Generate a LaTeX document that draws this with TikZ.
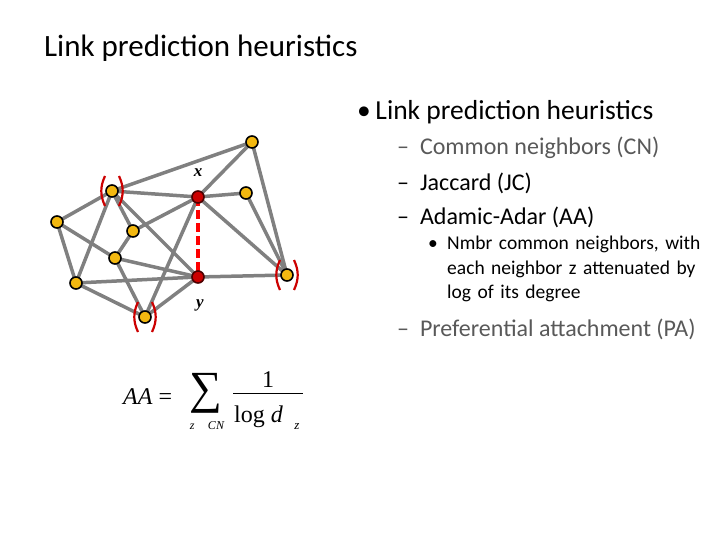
\documentclass[tikz,border=0pt]{standalone}
\usepackage{fontspec}
\setmainfont{Carlito}
\newfontfamily\tms{Liberation Serif}
\definecolor{ylw}{HTML}{F3B810}
\begin{document}
\begin{tikzpicture}[x=1pt,y=-1pt,
  nd/.style={circle,draw=black,line width=1.6pt,fill=ylw,minimum size=12pt,inner sep=0pt},
  rd/.style={circle,draw=black!70!red,line width=1.6pt,fill=red!80!black,minimum size=12pt,inner sep=0pt},
  ed/.style={draw=gray,line width=3.5pt},
  br/.style={draw=red!80!black,line width=2.2pt},
  txt/.style={anchor=west,inner sep=0pt,text=black!65},
  ft/.style={inner sep=0pt,font=\tms\fontsize{24}{28}\selectfont}]
\path[use as bounding box] (0,0) rectangle (720,540);
\node[anchor=west,inner sep=0pt,font=\fontsize{31}{36}\selectfont] (title) at (44,48) {Link prediction heuristics};
\node[anchor=west,inner sep=0pt,font=\fontsize{27.5}{32}\selectfont] (b1) at (357,112) {\textbullet\,Link prediction heuristics};
\node[txt,font=\fontsize{24}{28}\selectfont] (s1) at (397,148) {\textendash\ \ Common neighbors (CN)};
\node[txt,font=\fontsize{24}{28}\selectfont,text=black] (s2) at (397,183) {\textendash\ \ Jaccard (JC)};
\node[txt,font=\fontsize{24}{28}\selectfont,text=black] (s3) at (397,217) {\textendash\ \ Adamic-Adar (AA)};
\node[anchor=north west,inner sep=0pt,font=\fontsize{19.5}{24.5}\selectfont,text width=300pt,align=left] (s4) at (428,236) {\makebox[19pt][l]{\textbullet}Nmbr common neighbors, with\\\hspace*{19pt}each neighbor z attenuated by\\\hspace*{19pt}log of its degree};
\node[txt,font=\fontsize{24}{28}\selectfont] (s5) at (397,329) {\textendash\ \ Preferential attachment (PA)};
\coordinate (A) at (252,142);
\coordinate (B) at (112,191);
\coordinate (X) at (198,197);
\coordinate (C) at (246,193);
\coordinate (D) at (57,222);
\coordinate (E) at (133,231);
\coordinate (F) at (115,258);
\coordinate (Y) at (198,277);
\coordinate (G) at (287,275);
\coordinate (H) at (76,283);
\coordinate (I) at (145,317);
\foreach \a/\b in {A/B,A/X,A/G,B/X,B/D,B/E,B/Y,B/H,X/C,X/E,X/I,X/G,C/G,D/H,D/F,F/Y,F/I,E/F,H/Y,H/I,I/Y,G/Y}
  \draw[ed] (\a) -- (\b);
\draw[draw=red,line width=3.5pt,dash pattern=on 9pt off 4pt] (X) -- (Y);
\foreach \n in {A,B,C,D,E,F,G,H,I} \node[nd] (n\n) at (\n) {};
\node[rd] (nX) at (X) {};
\node[rd] (nY) at (Y) {};
\foreach \n in {B,G,I}{
  \draw[br] ([shift={(-7,-15)}]\n) to[bend right=25] ([shift={(-7,15)}]\n);
  \draw[br] ([shift={(7,-15)}]\n) to[bend left=25] ([shift={(7,15)}]\n);
}
\node[font=\tms\bfseries\itshape\fontsize{17}{20}\selectfont] (xl) at (198,173) {x};
\node[font=\tms\bfseries\itshape\fontsize{17}{20}\selectfont] (yl) at (200,305) {y};
% formula
\node[ft,anchor=west] (faa) at (123,397) {\itshape AA\upshape\ =};
\node[inner sep=0pt,font=\tms\fontsize{46}{46}\selectfont] (fsum) at (206,393) {∑};
\node[inner sep=0pt,font=\tms\itshape\fontsize{12}{12}\selectfont] (fsub) at (207,426) {z\,∈\,CN};
\node[ft] (fnum) at (268,380) {1};
\draw[line width=1pt] (fnum.south) ++(-35,5) -- ++(70,0);
\node[ft,anchor=west] (fden) at (234,417) {log \itshape d};
\node[inner sep=0pt,font=\tms\itshape\fontsize{13}{13}\selectfont] (fz) at (297,427) {z};
\end{tikzpicture}
\end{document}
